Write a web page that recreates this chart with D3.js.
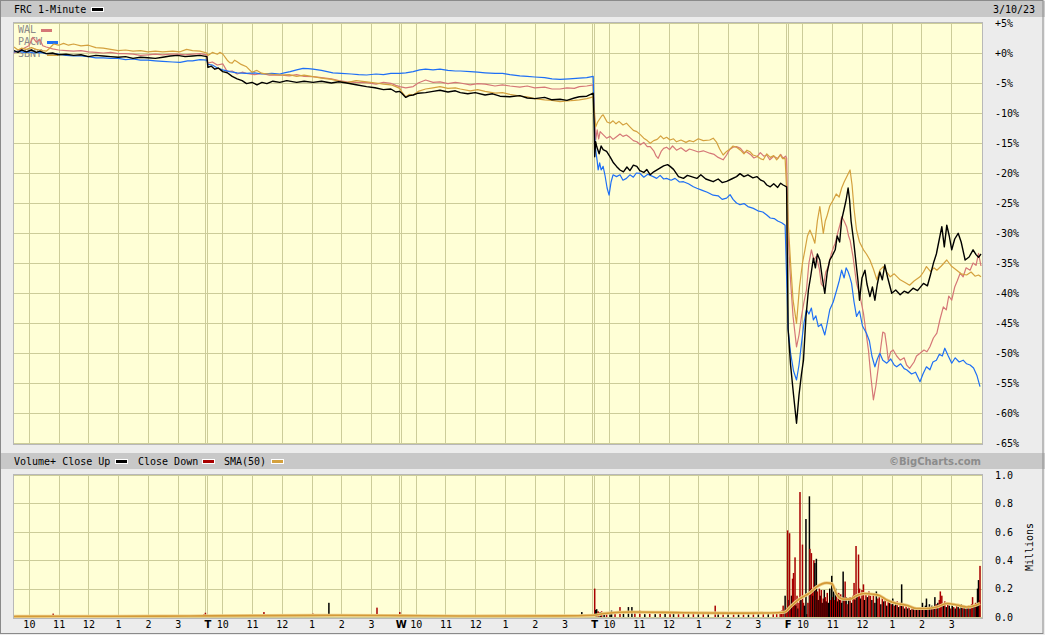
<!DOCTYPE html>
<html><head><meta charset="utf-8">
<script src="https://cdn.jsdelivr.net/npm/d3@7"></script>
<style>
body{margin:0;background:#ececec;}
svg{display:block;}
text{font-family:"DejaVu Sans Mono",monospace;font-size:10px;}
</style></head><body>
<svg id="c" width="1045" height="635"></svg>
<script>
// ---------- DATA (minutes since Mon 9:30 open, % change) ----------
const dayLetters = ["", "T", "W", "T", "F"];
const hourLabels = ["10", "11", "12", "1", "2", "3"];
const hourOffsets = [30, 90, 150, 210, 270, 330];
const pctTicks = [5,0,-5,-10,-15,-20,-25,-30,-35,-40,-45,-50,-55,-60,-65];
const volTicks = [0,0.2,0.4,0.6,0.8,1.0];

const FRC = [[0,0.4],[8,0.1],[15,0.5],[25,0.2],[35,0.5],[45,0.1],[52,0.3],[65,-0.1],[78,0.0],[90,-0.3],[105,-0.2],[120,-0.4],[135,-0.3],[150,-0.6],[165,-0.4],[180,-0.5],[195,-0.6],[210,-0.7],[225,-0.6],[240,-0.9],[255,-0.7],[270,-0.8],[285,-0.9],[300,-0.7],[315,-0.5],[330,-0.4],[345,-0.6],[360,-0.5],[375,-0.4],[389,-0.6],
[391,-2.4],[398,-2.2],[405,-2.7],[412,-2.5],[421,-3.1],[430,-3.3],[440,-3.9],[450,-4.3],[460,-4.6],[469,-5.1],[480,-4.9],[490,-5.3],[500,-4.9],[510,-5.1],[522,-4.7],[536,-4.9],[550,-4.6],[570,-4.9],[585,-4.7],[603,-4.9],[620,-4.7],[640,-5.0],[655,-4.8],[671,-5.0],[690,-5.3],[711,-5.6],[728,-5.8],[745,-6.1],[760,-6.0],[770,-6.5],[778,-6.4],
[782,-6.7],[790,-7.4],[797,-7.1],[805,-7.0],[815,-6.7],[830,-6.6],[845,-6.4],[859,-6.2],[875,-6.5],[890,-6.3],[900,-6.6],[915,-6.8],[930,-6.6],[950,-7.0],[965,-6.8],[980,-7.2],[1000,-7.3],[1020,-7.1],[1035,-7.5],[1050,-7.6],[1070,-7.4],[1085,-7.8],[1101,-7.7],[1115,-7.9],[1130,-7.5],[1140,-7.3],[1155,-7.2],[1168,-6.7],
[1170,-12],[1171,-17.3],[1173,-14.8],[1175,-15.6],[1180,-16.8],[1184,-15.5],[1188,-16.1],[1195,-16.4],[1202,-17.3],[1208,-18.2],[1215,-18.9],[1222,-19.5],[1229,-19.8],[1236,-19.0],[1242,-19.6],[1249,-18.7],[1256,-18.9],[1262,-19.6],[1270,-19.9],[1276,-19.4],[1283,-20.3],[1290,-19.8],[1300,-19.3],[1310,-18.8],[1318,-18.6],[1323,-18.9],[1330,-19.4],[1340,-20.6],[1350,-20.9],[1358,-20.4],[1366,-20.6],[1377,-20.9],[1385,-20.3],[1395,-21.0],[1410,-21.45],[1420,-21.0],[1428,-21.6],[1437,-21.4],[1447,-21.0],[1457,-20.6],[1464,-20.1],[1472,-20.6],[1480,-20.3],[1490,-20.8],[1498,-20.6],[1506,-21.2],[1512,-21.4],[1518,-22.0],[1525,-22.3],[1532,-21.8],[1540,-22.4],[1546,-21.7],[1551,-22.0],[1558,-22.3],
[1561,-46],[1566,-52],[1572,-57],[1578,-61.7],[1583,-57],[1588,-53.5],[1592,-51.2],[1597,-44],[1602,-39.5],[1607,-37],[1612,-34.2],[1616,-35.8],[1620,-33.5],[1625,-34.5],[1630,-37.5],[1635,-40.05],[1640,-36.5],[1645,-34.5],[1650,-33.8],[1656,-32.8],[1660,-30.5],[1665,-31.5],[1669,-27.8],[1674,-26.0],[1678,-24.5],[1682,-22.5],[1685,-24.5],[1688,-28],[1693,-31.2],[1698,-35],[1702,-38],[1705,-41.2],[1710,-37.5],[1716,-36.2],[1720,-38.5],[1726,-40.6],[1731,-39],[1736,-41.2],[1741,-38.5],[1746,-36.5],[1751,-37.8],[1756,-35.3],[1762,-37.5],[1770,-40.05],[1778,-39.5],[1787,-40.3],[1795,-39.7],[1803,-40.0],[1813,-39.2],[1822,-39.6],[1834,-38.4],[1842,-38.8],[1848,-37.0],[1854,-35.05],[1860,-33.5],[1866,-31.0],[1871,-28.95],[1876,-32.3],[1881,-28.7],[1886,-30.5],[1891,-32.8],[1897,-31.0],[1904,-30.05],[1910,-31.5],[1918,-34.5],[1926,-34.0],[1934,-32.8],[1940,-33.6],[1945,-34.05],[1950,-33.5]];

const WAL = [[0,0.0],[10,0.4],[20,0.8],[30,1.2],[38,2.6],[45,1.8],[52,2.3],[58,1.2],[65,1.0],[78,0.7],[90,0.5],[105,0.4],[120,0.3],[135,0.4],[150,0.2],[165,0.1],[180,0.0],[195,0.1],[210,-0.1],[225,-0.1],[240,-0.2],[255,-0.4],[270,-0.3],[285,-0.2],[300,-0.3],[315,-0.2],[330,-0.2],[345,-0.3],[360,-0.2],[375,-0.1],[389,-0.3],
[391,-1.7],[400,-1.5],[410,-2.0],[421,-1.8],[430,-3.1],[440,-3.0],[450,-3.5],[460,-3.2],[469,-3.4],[485,-3.6],[500,-3.4],[515,-3.7],[536,-3.67],[555,-3.8],[570,-3.6],[585,-3.9],[603,-3.95],[620,-4.1],[640,-4.3],[655,-4.6],[671,-4.8],[690,-4.9],[711,-4.95],[730,-5.2],[745,-4.9],[760,-5.05],[770,-5.4],[778,-5.6],
[790,-5.8],[805,-5.6],[815,-5.0],[830,-4.5],[845,-4.9],[859,-4.8],[875,-5.1],[890,-4.9],[900,-5.0],[920,-5.3],[935,-5.1],[950,-5.2],[970,-5.5],[985,-5.3],[1000,-5.5],[1020,-5.7],[1035,-5.5],[1050,-5.8],[1070,-5.7],[1085,-6.0],[1101,-6.0],[1115,-5.8],[1130,-5.9],[1140,-5.6],[1155,-5.5],[1168,-5.3],
[1171,-10.5],[1173,-14.5],[1176,-12.8],[1179,-14.3],[1182,-13.1],[1188,-13.6],[1195,-14.2],[1202,-13.9],[1208,-14.4],[1215,-13.95],[1222,-13.5],[1228,-13.9],[1235,-13.67],[1242,-14.1],[1249,-14.6],[1256,-14.8],[1263,-15.3],[1270,-14.9],[1277,-15.6],[1283,-15.6],[1290,-16.3],[1295,-17.2],[1299,-17.55],[1305,-16.4],[1310,-15.9],[1316,-15.7],[1322,-16.1],[1328,-15.5],[1336,-16.2],[1345,-15.8],[1355,-16.4],[1362,-16.0],[1370,-16.2],[1380,-16.5],[1390,-16.3],[1403,-16.7],[1412,-16.9],[1420,-17.4],[1430,-17.8],[1437,-17.0],[1443,-16.1],[1450,-15.7],[1457,-15.6],[1465,-15.9],[1472,-16.6],[1477,-16.45],[1485,-16.9],[1492,-17.5],[1498,-17.3],[1505,-16.6],[1512,-17.2],[1518,-17.0],[1524,-17.8],[1532,-17.2],[1540,-17.6],[1546,-16.9],[1551,-17.55],[1556,-17.2],[1558,-17.5],
[1561,-30],[1566,-38],[1571,-43.9],[1578,-49.0],[1583,-47],[1588,-43.9],[1593,-41.5],[1598,-39.5],[1603,-35],[1608,-32.8],[1613,-34.5],[1618,-33.9],[1624,-36],[1628,-38.5],[1632,-38.95],[1637,-36.5],[1642,-35.6],[1648,-33.5],[1652,-32.5],[1656,-31.7],[1661,-30.0],[1666,-28.5],[1669,-27.3],[1674,-28.0],[1679,-28.95],[1683,-30.5],[1686,-31.2],[1692,-34],[1699,-38.4],[1706,-40.5],[1713,-43.4],[1718,-46.5],[1723,-49.5],[1728,-54],[1733,-57.8],[1738,-55.5],[1743,-52.3],[1748,-49],[1752,-46.5],[1756,-46.7],[1760,-49],[1763,-51.2],[1768,-49.8],[1773,-49.5],[1780,-50.5],[1787,-51.2],[1795,-50.8],[1800,-52],[1806,-52.55],[1815,-51.5],[1820,-50.5],[1827,-50.05],[1835,-49.5],[1841,-49.8],[1847,-48.95],[1854,-47.5],[1861,-46.7],[1867,-44.5],[1874,-42.3],[1880,-42.8],[1885,-40.5],[1891,-41.2],[1897,-39.0],[1902,-38.0],[1908,-36.7],[1914,-37.3],[1920,-35.8],[1928,-36.2],[1934,-35.0],[1940,-35.4],[1945,-33.4],[1950,-35.5]];

const PACW = [[0,0.2],[10,0.3],[20,0.1],[30,0.2],[40,0.0],[52,0.1],[65,-0.1],[78,-0.1],[90,-0.2],[105,-0.4],[120,-0.5],[135,-0.5],[150,-0.6],[165,-0.8],[180,-0.8],[195,-0.9],[210,-0.9],[225,-1.1],[240,-1.0],[255,-1.2],[270,-1.2],[285,-1.3],[300,-1.4],[320,-1.5],[335,-1.55],[350,-1.3],[360,-1.3],[375,-1.1],[389,-1.2],
[391,-1.9],[400,-2.0],[410,-2.5],[421,-2.8],[435,-3.1],[450,-3.3],[469,-3.4],[485,-3.3],[500,-3.5],[520,-3.4],[536,-3.5],[545,-3.3],[557,-3.1],[570,-2.8],[583,-2.55],[593,-2.6],[603,-2.7],[620,-2.9],[643,-3.3],[660,-3.4],[680,-3.5],[695,-3.6],[711,-3.67],[730,-3.5],[745,-3.6],[760,-3.4],[778,-3.4],
[790,-3.3],[805,-3.1],[818,-2.8],[830,-2.7],[845,-2.8],[859,-2.7],[875,-2.9],[890,-3.0],[900,-3.0],[920,-3.1],[935,-3.2],[950,-3.3],[970,-3.4],[985,-3.4],[1000,-3.6],[1020,-3.8],[1035,-3.9],[1050,-4.0],[1070,-4.1],[1085,-4.3],[1101,-4.4],[1120,-4.3],[1140,-4.2],[1155,-4.1],[1168,-3.9],
[1171,-14],[1173,-16.2],[1176,-18.0],[1178,-19.5],[1181,-18.3],[1184,-19.5],[1188,-18.9],[1192,-20.5],[1196,-22.5],[1200,-23.7],[1204,-21.5],[1208,-20.3],[1215,-20.6],[1222,-20.3],[1228,-21.2],[1235,-20.9],[1242,-20.3],[1249,-20.7],[1255,-20.0],[1262,-20.05],[1270,-20.7],[1278,-20.2],[1289,-20.6],[1296,-20.9],[1303,-20.4],[1310,-21.0],[1316,-20.9],[1325,-21.2],[1333,-20.9],[1342,-21.5],[1350,-21.45],[1360,-21.8],[1370,-22.3],[1377,-22.55],[1388,-22.9],[1398,-23.2],[1410,-23.7],[1420,-23.8],[1428,-24.4],[1437,-24.2],[1444,-23.6],[1450,-24.4],[1457,-25.0],[1464,-25.3],[1472,-25.1],[1480,-25.6],[1491,-25.9],[1500,-26.3],[1510,-26.5],[1518,-27.0],[1525,-27.5],[1533,-27.6],[1540,-28.0],[1548,-28.3],[1555,-28.7],
[1561,-46],[1566,-50],[1572,-53],[1578,-54.5],[1583,-52],[1588,-48.4],[1593,-45],[1598,-42.8],[1603,-43.5],[1608,-42.5],[1612,-44.5],[1617,-43.8],[1622,-45.6],[1628,-45.2],[1635,-47],[1640,-45],[1645,-42.8],[1652,-41.5],[1659,-39.5],[1664,-38.0],[1669,-36.2],[1674,-37.5],[1678,-35.8],[1682,-36.45],[1685,-37.2],[1689,-38.4],[1694,-41.5],[1699,-43.9],[1705,-43.0],[1711,-45.5],[1719,-46.7],[1725,-48],[1730,-50.5],[1736,-52.3],[1741,-51],[1746,-50.05],[1752,-51.2],[1760,-51.7],[1768,-51.0],[1775,-52.0],[1780,-52.3],[1788,-51.8],[1795,-52.6],[1800,-52.8],[1810,-53.5],[1818,-53.2],[1827,-54.8],[1833,-53.5],[1840,-52.3],[1847,-52.8],[1853,-51.5],[1860,-51.2],[1866,-50.2],[1872,-50.5],[1877,-49.2],[1884,-50.5],[1891,-51.7],[1898,-50.8],[1906,-51.5],[1914,-51.2],[1921,-51.8],[1928,-52.0],[1935,-52.5],[1942,-53.8],[1948,-55.6]];

const SBNY = [[0,1.0],[8,0.5],[15,0.8],[25,0.6],[35,0.9],[45,0.6],[52,0.5],[58,0.4],[65,0.3],[72,0.8],[80,1.5],[90,1.3],[100,1.6],[110,1.3],[120,1.5],[135,1.2],[150,1.3],[165,0.9],[180,0.8],[195,0.6],[210,0.4],[225,0.5],[240,0.3],[255,0.4],[270,0.2],[285,0.3],[300,0.2],[320,0.3],[335,0.2],[348,0.6],[360,0.4],[375,0.3],[389,0.0],
[391,-0.4],[400,0.1],[410,-0.2],[415,0.1],[421,-0.17],[430,-1.2],[435,-1.6],[440,-1.7],[445,-1.2],[450,-1.45],[458,-1.9],[469,-2.3],[475,-2.8],[480,-3.2],[490,-2.9],[500,-3.4],[515,-3.5],[536,-3.67],[555,-3.6],[570,-3.9],[585,-3.7],[603,-3.95],[620,-4.2],[640,-4.4],[655,-4.7],[671,-4.95],[690,-4.6],[711,-4.8],[730,-5.0],[745,-5.2],[760,-5.3],[770,-5.6],[778,-5.9],
[782,-6.5],[790,-7.3],[797,-6.9],[805,-7.0],[815,-6.4],[830,-6.0],[845,-5.8],[859,-5.6],[875,-5.9],[890,-5.8],[900,-6.0],[920,-6.3],[935,-6.1],[950,-6.4],[970,-6.7],[985,-6.6],[1000,-6.9],[1020,-7.2],[1035,-7.3],[1050,-7.6],[1070,-7.8],[1085,-7.9],[1101,-8.1],[1115,-8.0],[1130,-7.9],[1140,-7.8],[1155,-7.6],[1168,-7.3],
[1171,-10.8],[1173,-12.3],[1177,-11.5],[1181,-11.0],[1185,-10.5],[1188,-10.3],[1192,-10.9],[1196,-11.5],[1202,-11.7],[1208,-11.3],[1214,-11.8],[1220,-11.4],[1228,-12.0],[1235,-11.7],[1242,-12.3],[1249,-12.9],[1256,-13.1],[1263,-13.6],[1270,-14.2],[1277,-14.6],[1283,-15.05],[1290,-14.6],[1297,-14.4],[1304,-13.8],[1310,-14.3],[1316,-14.05],[1323,-14.5],[1330,-14.3],[1336,-14.8],[1345,-14.5],[1355,-14.9],[1362,-14.6],[1370,-14.8],[1380,-14.3],[1390,-14.6],[1403,-14.5],[1410,-14.2],[1417,-14.9],[1423,-16.0],[1430,-17.0],[1437,-16.4],[1444,-16.0],[1450,-15.5],[1457,-15.7],[1465,-16.2],[1472,-16.8],[1478,-16.2],[1484,-16.45],[1490,-17.0],[1498,-17.2],[1505,-17.6],[1511,-17.8],[1518,-16.8],[1525,-17.4],[1532,-17.1],[1538,-17.8],[1545,-17.0],[1550,-17.6],[1555,-17.55],
[1561,-28],[1566,-35],[1571,-41.2],[1578,-45.05],[1584,-38.95],[1590,-35],[1595,-32.8],[1600,-30.5],[1605,-29.5],[1610,-30.5],[1615,-31.7],[1620,-28],[1625,-25.6],[1628,-27.5],[1632,-30.05],[1636,-28.0],[1639,-27.3],[1645,-25.5],[1652,-24.5],[1658,-23.5],[1664,-24.0],[1669,-22.5],[1674,-21.5],[1680,-20.5],[1686,-19.5],[1690,-22.0],[1694,-26],[1699,-29.5],[1705,-31.5],[1713,-32.8],[1719,-33.5],[1726,-34.5],[1733,-36],[1740,-37.8],[1746,-36.2],[1753,-35.6],[1760,-36.5],[1767,-37.3],[1775,-36.8],[1787,-37.8],[1796,-38.2],[1806,-38.7],[1815,-38.0],[1827,-37.3],[1834,-36.5],[1840,-35.6],[1848,-36.4],[1855,-35.8],[1861,-36.2],[1870,-35.5],[1881,-34.5],[1890,-35.5],[1901,-36.2],[1910,-36.8],[1921,-37.0],[1930,-36.5],[1938,-37.2],[1945,-37.0],[1950,-37.3]];

// volume bars: [minute, millions, u=close up / d=close down]
const volume = [[22,0.01,"d"],[38,0.008,"u"],[79,0.024,"d"],[173,0.005,"u"],[270,0.006,"d"],[355,0.008,"u"],[383,0.02,"d"],[386,0.03,"d"],[389,0.015,"u"],
[462,0.01,"d"],[468,0.012,"d"],[504,0.035,"d"],[512,0.01,"u"],[557,0.008,"d"],[603,0.024,"d"],[607,0.02,"d"],[617,0.01,"u"],[635,0.10,"u"],[657,0.02,"u"],[698,0.008,"d"],[732,0.066,"d"],[768,0.012,"u"],[774,0.018,"u"],
[778,0.035,"d"],[782,0.015,"d"],[799,0.008,"u"],[859,0.006,"u"],[920,0.008,"d"],[980,0.006,"u"],[1071,0.012,"u"],[1145,0.035,"u"],[1148,0.015,"d"],[1162,0.012,"u"],
[1171,0.20,"d"],[1173,0.05,"u"],[1175,0.055,"u"],[1178,0.04,"d"],[1182,0.035,"u"],[1185,0.04,"d"],[1190,0.025,"u"],[1195,0.03,"d"],[1202,0.02,"u"],[1205,0.045,"u"],[1212,0.03,"d"],[1222,0.07,"d"],[1229,0.025,"u"],[1239,0.07,"u"],[1246,0.07,"u"],[1252,0.03,"d"],[1262,0.045,"d"],[1272,0.02,"u"],[1282,0.035,"d"],[1293,0.02,"u"],[1303,0.03,"d"],[1313,0.025,"u"],[1323,0.02,"d"],[1330,0.035,"u"],[1340,0.02,"d"],[1350,0.03,"d"],[1360,0.02,"u"],[1370,0.025,"d"],[1380,0.02,"u"],[1390,0.025,"d"],[1400,0.02,"u"],[1414,0.08,"d"],[1420,0.03,"u"],[1430,0.02,"d"],[1440,0.03,"u"],[1451,0.02,"d"],[1461,0.025,"u"],[1471,0.02,"d"],[1481,0.03,"u"],[1491,0.025,"d"],[1501,0.03,"u"],[1511,0.025,"d"],[1521,0.03,"u"],[1531,0.035,"d"],[1538,0.03,"d"],[1545,0.04,"d"],[1548,0.045,"d"],[1551,0.08,"d"],[1555,0.15,"u"],[1557,0.06,"d"],
[1560,0.61,"d"],[1563,0.12,"u"],[1564,0.59,"d"],[1566,0.08,"d"],[1568,0.15,"u"],[1570,0.27,"d"],[1572,0.31,"d"],[1574,0.10,"u"],[1575,0.42,"d"],[1577,0.08,"u"],[1579,0.15,"d"],[1581,0.06,"u"],[1583,0.10,"d"],[1585,0.88,"d"],[1587,0.12,"u"],[1589,0.05,"d"],[1590,0.51,"d"],[1592,0.10,"d"],[1594,0.08,"u"],[1597,0.69,"u"],[1599,0.02,"u"],[1601,0.10,"d"],[1604,0.85,"u"],[1605,0.48,"d"],[1607,0.20,"u"],[1608,0.45,"d"],[1610,0.20,"d"],[1611,0.15,"u"],[1613,0.40,"d"],[1615,0.38,"u"],[1617,0.22,"d"],[1618,0.41,"u"],[1620,0.18,"d"],[1622,0.12,"u"],[1624,0.20,"d"],[1626,0.15,"u"],[1628,0.19,"d"],[1630,0.10,"u"],[1632,0.13,"d"],[1634,0.19,"u"],[1636,0.14,"d"],[1638,0.11,"u"],[1640,0.17,"d"],[1642,0.10,"u"],[1645,0.20,"u"],[1647,0.12,"d"],[1649,0.29,"u"],[1651,0.14,"d"],[1653,0.18,"u"],[1655,0.12,"d"],[1657,0.20,"u"],[1659,0.15,"d"],[1661,0.11,"u"],[1663,0.17,"d"],[1665,0.12,"u"],[1667,0.16,"d"],[1669,0.10,"u"],[1672,0.32,"u"],[1674,0.14,"d"],[1676,0.25,"d"],[1678,0.14,"u"],[1680,0.09,"d"],[1683,0.12,"u"],[1686,0.14,"d"],[1689,0.10,"u"],[1692,0.15,"d"],[1694,0.24,"d"],[1696,0.12,"u"],[1698,0.50,"d"],[1700,0.16,"u"],[1703,0.44,"d"],[1705,0.20,"d"],[1707,0.13,"u"],[1710,0.19,"d"],[1713,0.23,"d"],[1715,0.12,"u"],[1718,0.17,"d"],[1721,0.14,"u"],[1724,0.18,"d"],[1727,0.15,"d"],[1730,0.12,"u"],[1733,0.16,"d"],[1736,0.10,"u"],[1739,0.18,"u"],[1742,0.13,"d"],[1745,0.15,"d"],[1748,0.09,"u"],[1751,0.14,"d"],[1754,0.11,"u"],[1757,0.13,"d"],[1760,0.08,"u"],[1763,0.12,"d"],[1766,0.10,"u"],[1769,0.09,"d"],[1772,0.13,"u"],[1775,0.08,"d"],[1778,0.10,"u"],[1781,0.11,"d"],[1784,0.07,"u"],[1787,0.10,"d"],[1790,0.23,"u"],[1793,0.08,"d"],[1796,0.06,"u"],[1799,0.09,"d"],[1802,0.06,"u"],[1805,0.08,"d"],[1808,0.05,"u"],[1811,0.07,"d"],[1814,0.06,"u"],[1817,0.05,"d"],[1820,0.07,"u"],[1823,0.06,"d"],[1826,0.05,"u"],[1829,0.07,"d"],[1832,0.10,"u"],[1835,0.06,"d"],[1838,0.08,"u"],[1840,0.13,"u"],[1843,0.07,"d"],[1846,0.09,"u"],[1849,0.06,"d"],[1851,0.08,"u"],[1854,0.07,"d"],[1857,0.14,"u"],[1860,0.09,"d"],[1863,0.10,"u"],[1866,0.12,"d"],[1868,0.18,"d"],[1871,0.15,"d"],[1874,0.09,"u"],[1877,0.11,"d"],[1880,0.07,"u"],[1883,0.10,"d"],[1886,0.08,"u"],[1889,0.06,"d"],[1892,0.08,"u"],[1895,0.07,"d"],[1898,0.06,"u"],[1901,0.08,"d"],[1904,0.07,"u"],[1907,0.06,"d"],[1910,0.09,"u"],[1913,0.07,"d"],[1916,0.08,"u"],[1919,0.06,"d"],[1922,0.07,"u"],[1925,0.08,"d"],[1928,0.06,"u"],[1931,0.09,"d"],[1933,0.14,"d"],[1936,0.08,"u"],[1939,0.10,"d"],[1941,0.09,"u"],[1943,0.20,"u"],[1945,0.26,"u"],[1947,0.12,"d"],[1948,0.36,"d"]];

const sma50 = [[0,0.004],[100,0.005],[300,0.006],[390,0.008],[500,0.01],[650,0.012],[780,0.01],[900,0.007],[1100,0.008],[1170,0.012],[1190,0.025],[1250,0.035],[1350,0.03],[1450,0.027],[1540,0.03],[1555,0.035],
[1565,0.07],[1585,0.13],[1605,0.17],[1618,0.21],[1639,0.24],[1649,0.235],[1659,0.16],[1672,0.126],[1686,0.126],[1699,0.15],[1713,0.165],[1733,0.16],[1746,0.15],[1760,0.12],[1780,0.095],[1800,0.083],[1820,0.06],[1840,0.06],[1861,0.07],[1881,0.095],[1901,0.085],[1921,0.07],[1941,0.085],[1948,0.095]];

const series = [
  {name:"WAL", data:WAL, color:"#d57777"},
  {name:"PACW", data:PACW, color:"#1e6ff5"},
  {name:"SBNY", data:SBNY, color:"#d4a13e"},
  {name:"FRC", data:FRC, color:"#000000"}
];

// ---------- LAYOUT ----------
const W = 1045, H = 635;
const X0 = 14, X1 = 982;
const M_TOP = 23, M_BOT = 444;
const V_TOP = 475, V_BOT = 618;
const grid = "#cccc99", plotBg = "#ffffd6";

const x = d3.scaleLinear().domain([0, 1950]).range([X0, 981]);
const yM = d3.scaleLinear().domain([-65, 5]).range([443, 23]);
const yV = d3.scaleLinear().domain([0, 1]).range([617, 475]);

const svg = d3.select("#c");
svg.append("rect").attr("width", W).attr("height", H).attr("fill", "#ececec");
svg.append("rect").attr("x", 0).attr("y", 1).attr("width", W).attr("height", 16).attr("fill", "#c8c8c8");
svg.append("rect").attr("x", 0).attr("y", 453).attr("width", W).attr("height", 16).attr("fill", "#c8c8c8");
svg.append("rect").attr("x", 0.5).attr("y", 0.5).attr("width", 1042.5).attr("height", 633).attr("fill", "none").attr("stroke", "#8a8a8a");

// header texts
svg.append("text").attr("x", 14).attr("y", 13).text("FRC 1-Minute");
svg.append("rect").attr("x", 91).attr("y", 7).attr("width", 13).attr("height", 5).attr("fill", "#fff");
svg.append("rect").attr("x", 92).attr("y", 8).attr("width", 11).attr("height", 3).attr("fill", "#000");
svg.append("text").attr("x", 993).attr("y", 13).text("3/10/23");

// volume header
const vh = svg.append("g");
vh.append("text").attr("x", 14).attr("y", 465).text("Volume+ Close Up");
vh.append("rect").attr("x", 115).attr("y", 459).attr("width", 13).attr("height", 5).attr("fill", "#fff");
vh.append("rect").attr("x", 116).attr("y", 460).attr("width", 11).attr("height", 3).attr("fill", "#000");
vh.append("text").attr("x", 138).attr("y", 465).text("Close Down");
vh.append("rect").attr("x", 202).attr("y", 459).attr("width", 13).attr("height", 5).attr("fill", "#fff");
vh.append("rect").attr("x", 203).attr("y", 460).attr("width", 11).attr("height", 3).attr("fill", "#a80000");
vh.append("text").attr("x", 224).attr("y", 465).text("SMA(50)");
vh.append("rect").attr("x", 271).attr("y", 459).attr("width", 13).attr("height", 5).attr("fill", "#fff");
vh.append("rect").attr("x", 272).attr("y", 460).attr("width", 11).attr("height", 3).attr("fill", "#d4a13e");
vh.append("text").attr("x", 981).attr("y", 465).attr("text-anchor", "end")
  .style("font-family", "'DejaVu Sans',sans-serif").style("font-size", "11px").style("font-weight", "bold")
  .attr("fill", "#8c8c8c").attr("textLength", 92).attr("lengthAdjust", "spacingAndGlyphs").text("©BigCharts.com");

// vertical grid positions
const hourTicks = [], dayTicks = [];
for (let d = 0; d < 5; d++) {
  hourOffsets.forEach((o, i) => hourTicks.push({m: d * 390 + o, label: hourLabels[i]}));
  if (d > 0) dayTicks.push({m: d * 390, label: dayLetters[d]});
}
const px = v => Math.round(v) + 0.5;

function panel(top, bot, yScale, ticks) {
  const g = svg.append("g");
  g.append("rect").attr("x", X0).attr("y", top).attr("width", X1 - X0).attr("height", bot - top).attr("fill", plotBg);
  g.selectAll(".hg").data(ticks).join("line")
    .attr("x1", X0).attr("x2", X1).attr("y1", d => px(yScale(d))).attr("y2", d => px(yScale(d)))
    .attr("stroke", grid);
  g.selectAll(".vg").data(hourTicks).join("line")
    .attr("x1", d => px(x(d.m))).attr("x2", d => px(x(d.m))).attr("y1", top).attr("y2", bot).attr("stroke", grid);
  dayTicks.forEach(d => {
    [0, -2].forEach(off => g.append("line").attr("x1", px(x(d.m)) + off).attr("x2", px(x(d.m)) + off)
      .attr("y1", top).attr("y2", bot).attr("stroke", grid));
  });
  g.append("rect").attr("x", X0 - 0.5).attr("y", top - 0.5).attr("width", X1 - X0 + 1).attr("height", bot - top + 1)
    .attr("fill", "none").attr("stroke", "#b8b8b8");
  return g;
}
panel(M_TOP, M_BOT, yM, pctTicks);
panel(V_TOP, V_BOT, yV, volTicks);

// clip paths
const defs = svg.append("defs");
defs.append("clipPath").attr("id", "cm").append("rect").attr("x", X0).attr("y", M_TOP).attr("width", X1 - X0).attr("height", M_BOT - M_TOP);
defs.append("clipPath").attr("id", "cv").append("rect").attr("x", X0).attr("y", V_TOP).attr("width", X1 - X0).attr("height", V_BOT - V_TOP);

// legend (drawn under lines)
const leg = svg.append("g");
[{t:"WAL", c:"#d57777", y:33, sx:41}, {t:"PACW", c:"#1e6ff5", y:45, sx:47}, {t:"SBNY", c:"#d4a13e", y:57, sx:47}].forEach(l => {
  leg.append("text").attr("x", 18).attr("y", l.y).attr("fill", "#8a8a8a").text(l.t);
  leg.append("rect").attr("x", l.sx).attr("y", l.y - 4).attr("width", 11).attr("height", 3).attr("fill", l.c);
});

// price lines
const line = d3.line().x(d => x(d[0])).y(d => yM(d[1]));
const lg = svg.append("g").attr("clip-path", "url(#cm)");
series.forEach(s => {
  lg.append("path").datum(s.data).attr("d", line).attr("fill", "none")
    .attr("stroke", s.color).attr("stroke-width", s.name === "FRC" ? 1.4 : 1.2).attr("stroke-linejoin", "round");
});

// volume bars
const vg = svg.append("g").attr("clip-path", "url(#cv)");
vg.selectAll("rect").data(volume).join("rect")
  .attr("x", d => x(d[0]) - 0.75).attr("width", 1.5)
  .attr("y", d => yV(d[1])).attr("height", d => yV(0) - yV(d[1]))
  .attr("fill", d => d[2] === "u" ? "#000" : "#a80000");
const sl = d3.line().x(d => x(d[0])).y(d => yV(d[1])).curve(d3.curveMonotoneX);
vg.append("path").datum(sma50).attr("d", sl).attr("fill", "none").attr("stroke", "#f0d38e").attr("stroke-width", 3.2);
vg.append("path").datum(sma50).attr("d", sl).attr("fill", "none").attr("stroke", "#d39a38").attr("stroke-width", 1.6);

// axes
const fmtPct = v => (v >= 0 ? "+" : "") + v + "%";
const ax = svg.append("g").attr("transform", `translate(${X1},0)`)
  .call(d3.axisRight(yM).tickValues(pctTicks).tickFormat(fmtPct).tickSize(0).tickPadding(13));
const av = svg.append("g").attr("transform", `translate(${X1},0)`)
  .call(d3.axisRight(yV).tickValues(volTicks).tickFormat(d3.format(".1f")).tickSize(0).tickPadding(13));
const allX = hourTicks.concat(dayTicks);
const labelOf = new Map(allX.map(d => [d.m, d.label]));
const abx = svg.append("g").attr("transform", `translate(0,618)`)
  .call(d3.axisBottom(x).tickValues(allX.map(d => d.m)).tickFormat(m => labelOf.get(m)).tickSize(0).tickPadding(3));
[ax, av, abx].forEach(a => {
  a.select(".domain").remove();
  a.attr("font-family", null).attr("font-size", null);
  a.selectAll("text").attr("fill", "#000");
});
abx.selectAll(".tick text").filter(m => dayLetters.includes(labelOf.get(m)) && labelOf.get(m) !== "")
  .style("font-weight", "bold").style("font-family", "'DejaVu Sans',sans-serif");

svg.append("text").attr("transform", "translate(1033,547) rotate(-90)").attr("text-anchor", "middle").text("Millions");
</script></body></html>
